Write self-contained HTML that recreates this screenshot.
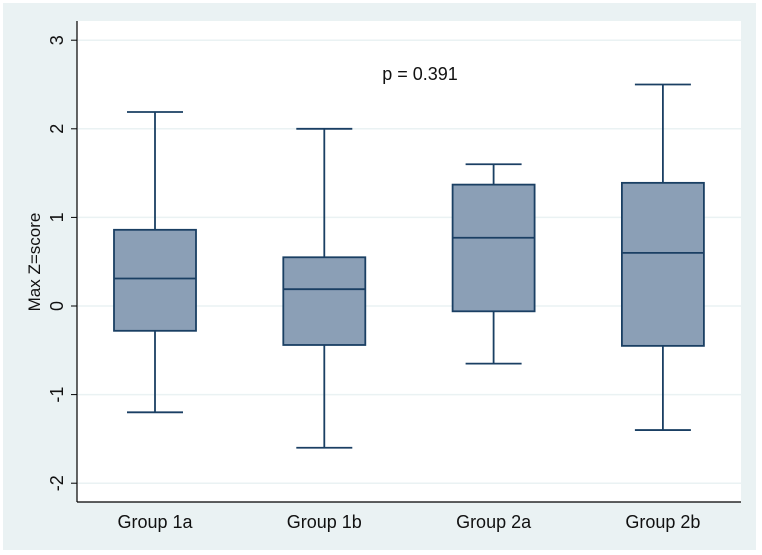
<!DOCTYPE html>
<html><head><meta charset="utf-8"><style>
html,body{margin:0;padding:0;background:#fff;width:762px;height:555px;overflow:hidden}
svg{display:block;font-family:"Liberation Sans",Arial,sans-serif}
</style></head><body>
<svg id="chart" width="762" height="555">
<rect x="3" y="3" width="753" height="547" fill="#eaf2f3"/>
<rect x="77" y="21" width="664" height="481" fill="#fff"/>
<g id="grid"></g>
<g id="boxes"></g>
<line x1="77" y1="21" x2="77" y2="502" stroke="#000" stroke-width="1.2"/>
<line x1="77" y1="502" x2="741" y2="502" stroke="#000" stroke-width="1.2"/>
<g id="yticks"></g>
<g id="xlabels"></g>
<text x="40" y="262" font-size="17" text-anchor="middle" transform="rotate(-90 40 262)" fill="#111">Max Z=score</text>
<text x="420" y="80" font-size="18" text-anchor="middle" fill="#111">p = 0.391</text>
</svg>
<script>
const categories=["Group 1a","Group 1b","Group 2a","Group 2b"];
const whiskerLow=[-1.2,-1.6,-0.65,-1.4];
const q1=[-0.28,-0.44,-0.06,-0.45];
const median=[0.31,0.19,0.77,0.6];
const q3=[0.86,0.55,1.37,1.39];
const whiskerHigh=[2.19,2.0,1.6,2.5];
const yTicks=[-2,-1,0,1,2,3];
const NS="http://www.w3.org/2000/svg";
const y=v=>306-v*88.6;
const x=i=>155+i*169.3;
function mk(tag,attrs,parent){const e=document.createElementNS(NS,tag);for(const k in attrs)e.setAttribute(k,attrs[k]);document.getElementById(parent).appendChild(e);return e;}
yTicks.forEach(t=>{
  const g=mk('line',{x1:78,x2:741,y1:y(t),y2:y(t),stroke:'#eaf2f3','stroke-width':1.5},'grid');
  
  
  const tk=mk('line',{x1:71,x2:77,y1:y(t),y2:y(t),stroke:'#000','stroke-width':1},'yticks');
  
  
  const tx=mk('text',{x:0,y:0,'font-size':18,'text-anchor':'middle',fill:'#111',transform:`translate(63 ${y(t)}) rotate(-90)`},'yticks');
  tx.textContent=t;
  
  
});
categories.forEach((c,i)=>{
  const cx=x(i),hw=41,cap=28,col='#1a3f63';
  const w1=mk('line',{x1:cx,x2:cx,y1:y(whiskerHigh[i]),y2:y(q3[i]),stroke:col,'stroke-width':1.8},'boxes');
  
  
  const w2=mk('line',{x1:cx,x2:cx,y1:y(q1[i]),y2:y(whiskerLow[i]),stroke:col,'stroke-width':1.8},'boxes');
  
  
  const c1=mk('line',{x1:cx-cap,x2:cx+cap,y1:y(whiskerHigh[i]),y2:y(whiskerHigh[i]),stroke:col,'stroke-width':1.8},'boxes');
  
  
  const c2=mk('line',{x1:cx-cap,x2:cx+cap,y1:y(whiskerLow[i]),y2:y(whiskerLow[i]),stroke:col,'stroke-width':1.8},'boxes');
  
  
  const b=mk('rect',{x:cx-hw,y:y(q3[i]),width:hw*2,height:y(q1[i])-y(q3[i]),fill:'#8b9fb6',stroke:col,'stroke-width':1.8},'boxes');
  
  
  const m=mk('line',{x1:cx-hw,x2:cx+hw,y1:y(median[i]),y2:y(median[i]),stroke:col,'stroke-width':1.8},'boxes');
  
  
  const t=mk('text',{x:cx,y:528,'font-size':18,'text-anchor':'middle',fill:'#111'},'xlabels');
  t.textContent=c;
  
  
});
</script>
</body></html>
